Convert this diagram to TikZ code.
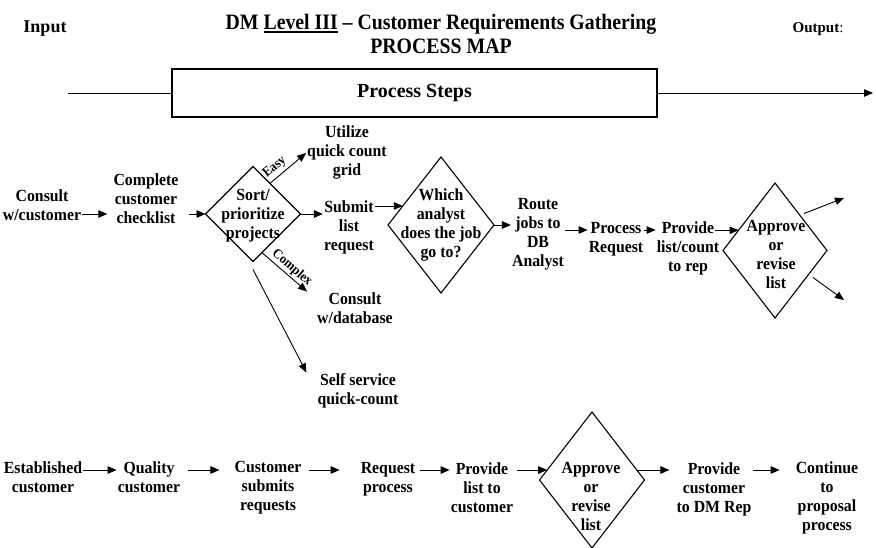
\documentclass[tikz,border=0pt]{standalone}
\usepackage{fontspec}
\setmainfont{Liberation Serif}
\newfontfamily\bodyfont{Liberation Serif}[FakeStretch=0.93]
\newfontfamily\titlefont{Liberation Serif}[FakeStretch=0.9]
\usetikzlibrary{arrows.meta,shapes.geometric,calc}
\newcommand\ulx[1]{\setbox0\hbox{#1}\rlap{\rule[-3pt]{\wd0}{1.6pt}}\box0\relax}
\tikzset{
 txt/.style={font=\bodyfont\bfseries\fontsize{17}{19}\selectfont, align=center, inner sep=1pt,
   execute at begin node=\strut, execute at end node=\strut},
 dia/.style={draw, shape=diamond, inner sep=0pt, outer sep=0pt, line width=1.1pt},
 arr/.style={-{Triangle[length=9pt,width=7.5pt]}, line width=0.9pt},
 plain/.style={line width=0.9pt},
 lbl/.style={font=\bodyfont\bfseries\fontsize{13.5}{14}\selectfont, inner sep=1.5pt},
}
\begin{document}
\begin{tikzpicture}[x=1pt,y=-1pt]
\useasboundingbox (0,0) rectangle (876,548);

% header
\node[font=\bfseries\fontsize{18}{20}\selectfont, inner sep=0pt] (inp) at (45,29) {Input};
\node[font=\fontsize{15}{17}\selectfont, inner sep=0pt] (outp) at (818,29) {\textbf{Output}:};
\node[font=\titlefont\bfseries\fontsize{22}{24}\selectfont, align=center, inner sep=0pt] (title) at (441,34)
  {DM \ulx{Level III} – Customer Requirements Gathering\\PROCESS MAP};
\node[draw, line width=1.1pt, minimum width=485pt, minimum height=48pt, inner sep=0pt,
  font=\bfseries\fontsize{20}{24}\selectfont] (steps) at (414.5,93) {Process Steps};
\coordinate (inL) at (68,93);
\coordinate (outR) at (873,93);
\draw[plain] (inL) -- (steps.west);
\draw[arr] (steps.east) -- (outR);

% top row
\node[txt] (consult) at (42,208) {Consult\\w/customer};
\node[txt] (complete) at (146,201) {Complete\\customer\\checklist};
\node[dia, minimum width=95pt, minimum height=95pt] (sort) at (253,214) {};
\node[txt] (sortt) at (253,217) {Sort/\\prioritize\\projects};
\node[txt] (utilize) at (347,153) {Utilize\\quick count\\grid};
\node[txt] (submit) at (349,228) {Submit\\list\\request};
\node[txt] (consultdb) at (355,311) {Consult\\w/database};
\node[txt] (selfsvc) at (358,392) {Self service\\quick-count};
\node[dia, minimum width=106pt, minimum height=136pt] (which) at (441,225) {};
\node[txt] (whicht) at (441,226) {Which\\analyst\\does the job\\go to?};
\node[txt] (route) at (538,235) {Route\\jobs to\\DB\\Analyst};
\node[txt] (procreq) at (616,240) {Process\\Request};
\node[txt] (provlc) at (688,249) {Provide\\list/count\\to rep};
\node[dia, minimum width=104pt, minimum height=135pt] (ap) at (775,250.5) {};
\node[txt] (apt) at (776,257) {Approve\\or\\revise\\list};

% top row connectors
\draw[arr, shorten >=5pt] (consult.east |- 0,214) -- (complete.west |- 0,214);
\draw[arr, shorten <=9pt] (complete.east |- sort.west) -- (sort.west);
\draw[arr] (sort.east) -- (sort.east -| submit.west);
\draw[arr] (sort.61) -- node[lbl, sloped, above=1.5pt, pos=0.3] {Easy} (utilize.west);
\draw[arr] (sort.-77) -- node[lbl, sloped, above, pos=0.55] {Complex} ($(consultdb.north west)+(-9,0)$);
\draw[arr] ([yshift=-8pt]sort.south) -- ($(selfsvc.north west)+(-10,0)$);
\coordinate (whin) at ($(which.west)!0.28!(which.north)$);
\draw[arr] (submit.east |- whin) -- (whin);
\draw[arr] (which.east) -- (which.east -| route.west);
\draw[arr] (route.east |- 0,230) -- (procreq.west |- 0,230);
\draw[arr] (procreq.east |- 0,230) -- (provlc.west |- 0,230);
\coordinate (apin) at ($(ap.west)!0.3!(ap.north)$);
\draw[arr] ([xshift=-5pt]provlc.east |- apin) -- (apin);
\coordinate (apo1) at (844,198);
\coordinate (apo2) at (844,300);
\draw[arr] ($(ap.center)+(29,-37)$) -- (apo1);
\draw[arr] ($(ap.center)+(38,27)$) -- (apo2);

% bottom row
\node[txt] (est) at (43,480) {Established\\customer};
\node[txt] (qual) at (149,480) {Quality\\customer};
\node[txt] (cust) at (268,489) {Customer\\submits\\requests};
\node[txt] (req) at (388,480) {Request\\process};
\node[txt] (prov) at (482,490) {Provide\\list to\\customer};
\node[dia, minimum width=105pt, minimum height=136pt] (dfour) at (592,480) {};
\node[txt] (dfourt) at (591,499) {Approve\\or\\revise\\list};
\node[txt] (provdm) at (714,490) {Provide\\customer\\to DM Rep};
\node[txt] (cont) at (827,499) {Continue\\to\\proposal\\process};

% bottom connectors
\coordinate (din) at ($(dfour.west)!0.147!(dfour.north)$);
\coordinate (dout) at ($(dfour.east)!0.147!(dfour.north)$);
\draw[arr] (est.east |- din) -- (qual.west |- din);
\draw[arr, shorten <=7pt, shorten >=14pt] (qual.east |- din) -- (cust.west |- din);
\draw[arr, shorten <=6pt, shorten >=20pt] (cust.east |- din) -- (req.west |- din);
\draw[arr, shorten <=4pt] (req.east |- din) -- (prov.west |- din);
\draw[arr, shorten <=3pt] (prov.east |- din) -- (din);
\draw[arr, shorten >=6pt] (dout) -- (provdm.west |- dout);
\draw[arr, shorten >=15pt] (provdm.east |- dout) -- (cont.west |- dout);
\end{tikzpicture}
\end{document}
